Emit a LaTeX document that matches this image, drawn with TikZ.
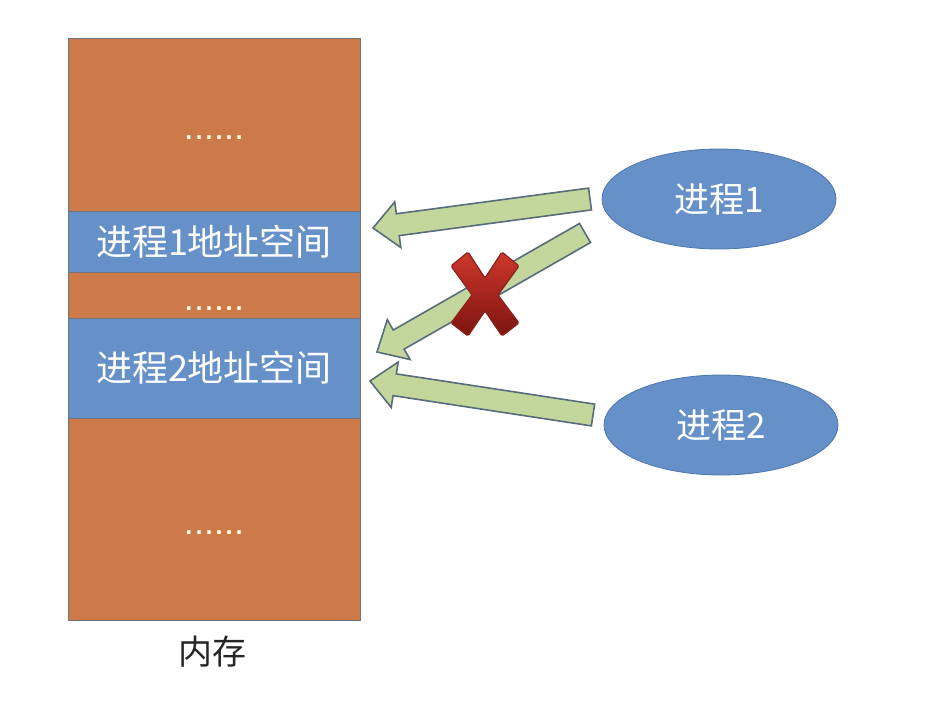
\documentclass[tikz,border=0pt]{standalone}
\usepackage{fontspec}
\newfontfamily\cjk{Noto Sans CJK SC}
\newfontfamily\dotfont{Liberation Sans}
\usetikzlibrary{calc,shapes.geometric}
\definecolor{memorange}{RGB}{205,122,74}
\definecolor{memblue}{RGB}{101,144,200}
\definecolor{memedge}{RGB}{115,115,125}
\definecolor{elledge}{RGB}{78,118,172}
\definecolor{arrowfill}{RGB}{195,214,155}
\definecolor{arrowedge}{RGB}{88,108,124}
\definecolor{crossedge}{RGB}{140,35,25}
\definecolor{crosstop}{RGB}{205,55,45}
\definecolor{crossbot}{RGB}{125,20,15}
\tikzset{
  seg/.style={draw=memedge, line width=0.8pt, minimum width=292pt, inner sep=0pt},
  freeseg/.style={seg, fill=memorange},
  usedseg/.style={seg, fill=memblue, text=white, font=\cjk\fontsize{36}{40}\selectfont},
  gap/.style={text=white!90!yellow, font=\dotfont\fontsize{36}{40}\selectfont, inner sep=0pt},
  proc/.style={ellipse, draw=elledge, line width=0.8pt, fill=memblue, text=white,
    minimum width=234pt, minimum height=100pt, inner sep=0pt,
    font=\cjk\fontsize{35}{40}\selectfont},
  arrowbody/.style={fill=arrowfill, draw=arrowedge, line width=1.6pt, line join=miter},
}
% block arrow from tail #1 to tip #2
\newcommand\blockarrow[2]{%
  \coordinate (#1-neck) at ($(#2)!25pt!(#1)$);
  \filldraw[arrowbody]
    ($(#1)!11pt!90:(#2)$) -- ($(#1-neck)!11pt!90:(#2)$) -- ($(#1-neck)!23pt!90:(#2)$)
    -- (#2)
    -- ($(#1-neck)!23pt!-90:(#2)$) -- ($(#1-neck)!11pt!-90:(#2)$) -- ($(#1)!11pt!-90:(#2)$)
    -- cycle;
}
\begin{document}
\begin{tikzpicture}[x=1pt,y=-1pt]
\useasboundingbox[fill=white] (0,0) rectangle (926,710);

% memory column
\node[freeseg, minimum height=173pt] (top)  at (214,124.5) {};
\node[usedseg, minimum height=61pt]  (sp1)  at (214,241.5) {进程1地址空间};
\node[freeseg, minimum height=46pt]  (mid)  at (214,295) {};
\node[usedseg, minimum height=100pt] (sp2)  at (214,368) {进程2地址空间};
\node[freeseg, minimum height=202pt] (bot)  at (214,519) {};
\node[gap] (dots1) at (214,138) {......};
\node[gap] (dots2) at (214,309) {......};
\node[gap] (dots3) at (214,533) {......};
\node[font=\cjk\fontsize{34}{40}\selectfont, text=black!85] (mem) at (212,652) {内存};

% processes
\node[proc] (p1) at (719,199) {进程1};
\node[proc] (p2) at (721,425) {进程2};

% arrows
\coordinate (t1) at (590,199);
\coordinate (h1) at (373,228);
\coordinate (t2) at (585,233);
\coordinate (h2) at (377,352);
\coordinate (t3) at (593,415);
\coordinate (h3) at (370,381);
\blockarrow{t1}{h1}
\blockarrow{t2}{h2}
\blockarrow{t3}{h3}

% forbidden mark
\shade[top color=crosstop, bottom color=crossbot, draw=crossedge, line width=1.2pt,
  rounded corners=1.5pt]
  (451,266) -- (468,252) -- (485,278) -- (502,252) -- (519,266) -- (498,295)
  -- (519,323) -- (502,336) -- (485,311) -- (468,336) -- (451,323) -- (472,295) -- cycle;
\end{tikzpicture}
\end{document}
